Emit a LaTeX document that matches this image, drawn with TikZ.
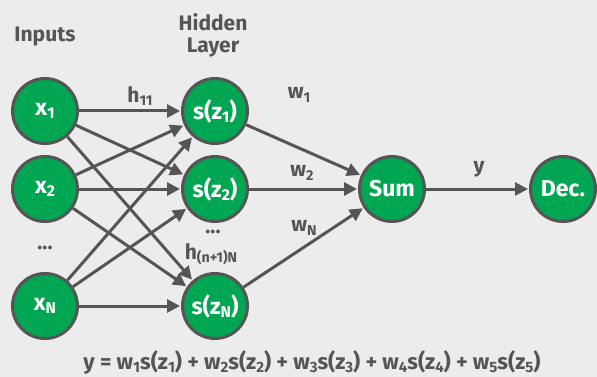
\documentclass[tikz,border=0pt]{standalone}
\usepackage{fontspec}
\setmainfont{Fira Sans}[UprightFont={* Bold},BoldFont={* Bold}]
\usetikzlibrary{arrows.meta}
\definecolor{bg}{RGB}{236,236,236}
\definecolor{dg}{RGB}{85,85,85}
\definecolor{gr}{RGB}{0,166,81}
\newcommand\lsub[1]{\raisebox{-0.3ex}{\fontsize{0.68em}{0.68em}\selectfont #1}}
\tikzset{
  neuron/.style={circle,fill=gr,draw=dg,line width=3pt,minimum size=65pt,inner sep=0pt,
    text=white,font=\fontsize{23}{23}\selectfont},
  lbl/.style={text=dg,font=\fontsize{21}{21}\selectfont,inner sep=0pt},
  conn/.style={draw=dg,line width=3pt,-{Triangle[length=13pt,width=13pt]},shorten >=1pt},
}
\begin{document}
\begin{tikzpicture}[x=1pt,y=-1pt]
\fill[bg] (0,0) rectangle (597,377);
\useasboundingbox (0,0) rectangle (597,377);
\node[neuron] (x1) at (45,111) {x\lsub{1}};
\node[neuron] (x2) at (45,189) {x\lsub{2}};
\node[neuron] (xN) at (45,306) {x\lsub{N}};
\node[neuron] (s1) at (215,111) {s(z\lsub{1})};
\node[neuron] (s2) at (215,189) {s(z\lsub{2})};
\node[neuron] (sN) at (215,306) {s(z\lsub{N})};
\node[neuron] (sum) at (392,189) {Sum};
\node[neuron] (dec) at (563,189) {Dec.};
\foreach \a in {x1,x2,xN}{
  \foreach \b in {s1,s2,sN}{
    \draw[conn] (\a) -- (\b);
  }
}
\draw[conn] (s1) -- (sum);
\draw[conn] (s2) -- (sum);
\draw[conn] (sN) -- (sum);
\draw[conn] (sum) -- (dec);
\node[lbl] (inputs) at (45,37) {Inputs};
\node[lbl,align=center] (hidden) at (213,35) {Hidden\\[1pt]Layer};
\node[lbl] (h11) at (140,96) {h\lsub{11}};
\node[lbl] (hn) at (211,254) {h\lsub{(n+1)N}};
\node[lbl] (d1) at (45,248) {...};
\node[lbl] (d2) at (213,232) {...};
\node[lbl] (w1) at (299,95) {w\lsub{1}};
\node[lbl] (w2) at (302,173) {w\lsub{2}};
\node[lbl] (wN) at (304,228) {w\lsub{N}};
\node[lbl] (y) at (479,169) {y};
\node[lbl,font=\fontsize{22}{22}\selectfont] (eq) at (312,362) {y = w\lsub{1}s(z\lsub{1}) + w\lsub{2}s(z\lsub{2}) + w\lsub{3}s(z\lsub{3}) + w\lsub{4}s(z\lsub{4}) + w\lsub{5}s(z\lsub{5})};
\end{tikzpicture}
\end{document}
